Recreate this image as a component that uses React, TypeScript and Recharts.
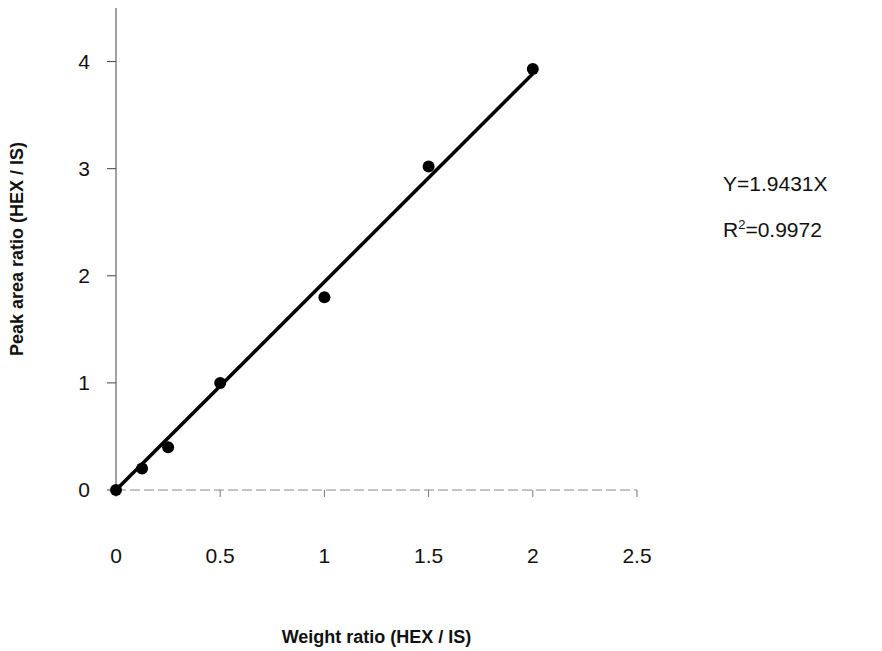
import { ScatterChart, Scatter, XAxis, YAxis, Label } from "recharts";

const weightRatio = [0, 0.125, 0.25, 0.5, 1, 1.5, 2];
const peakAreaRatio = [0, 0.2, 0.4, 1.0, 1.8, 3.02, 3.93];
const xTicks = [0, 0.5, 1, 1.5, 2, 2.5];
const yTicks = [0, 1, 2, 3, 4];
const slope = 1.9431;
const fitRange = [0, 2];

const points = weightRatio.map((x, i) => ({ x, y: peakAreaRatio[i] }));
const fitLine = fitRange.map((x) => ({ x, y: slope * x }));

const font = "'Liberation Sans', Arial, sans-serif";

const Dot = (props: any) => <circle cx={props.cx} cy={props.cy} r={6} fill="#000" />;

export default function App() {
  return (
    <div style={{ position: "absolute", left: 0, top: 0, width: 882, height: 651, background: "#fff" }}>
      <ScatterChart width={882} height={651} margin={{ top: 8, right: 245, left: 56, bottom: 0 }}>
        <XAxis
          type="number"
          dataKey="x"
          domain={[0, 2.5]}
          ticks={xTicks}
          height={161}
          tickSize={7}
          tickMargin={51}
          stroke="#777"
          axisLine={{ stroke: "#888", strokeDasharray: "10 4" }}
          tick={{ fill: "#111", fontSize: 21, fontFamily: font }}
        >
          <Label
            value="Weight ratio (HEX / IS)"
            position="insideBottom"
            offset={8}
            style={{ fill: "#111", fontSize: 18, fontFamily: font, fontWeight: 600 }}
          />
        </XAxis>
        <YAxis
          type="number"
          dataKey="y"
          domain={[0, 4.5]}
          ticks={yTicks}
          width={60}
          tickSize={9}
          tickMargin={17}
          stroke="#444"
          tick={{ fill: "#111", fontSize: 21, fontFamily: font }}
        >
          <Label
            value="Peak area ratio (HEX / IS)"
            angle={-90}
            position="insideLeft"
            offset={-39}
            style={{ textAnchor: "middle", fill: "#111", fontSize: 18, fontFamily: font, fontWeight: 600 }}
          />
        </YAxis>
        <Scatter
          data={fitLine}
          line={{ stroke: "#000", strokeWidth: 3.5 }}
          shape={() => null}
          isAnimationActive={false}
        />
        <Scatter data={points} fill="#000" shape={Dot} isAnimationActive={false} />
      </ScatterChart>
      <div style={{ position: "absolute", left: 723, top: 172, fontFamily: font, fontSize: 21, color: "#111" }}>
        Y=1.9431X
      </div>
      <div style={{ position: "absolute", left: 723, top: 217, fontFamily: font, fontSize: 21, color: "#111" }}>
        R<sup style={{ fontSize: 13 }}>2</sup>=0.9972
      </div>
    </div>
  );
}
